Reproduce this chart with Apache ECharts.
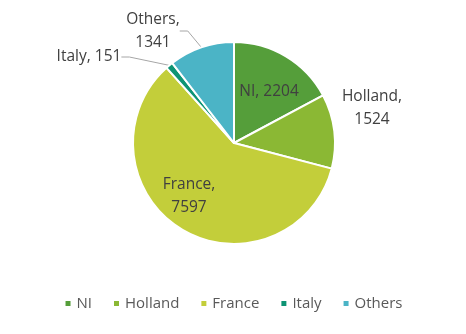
<!DOCTYPE html>
<html><head><meta charset="utf-8">
<script src="https://cdn.jsdelivr.net/npm/echarts@6/dist/echarts.min.js"></script>
<style>html,body{margin:0;padding:0;background:#fff}#c{width:466px;height:334px}</style>
</head><body><div id="c"></div>
<script>
const categories = ["NI", "Holland", "France", "Italy", "Others"];
const values = [2204, 1524, 7597, 151, 1341];
const colors = ["#559E3A", "#8BB834", "#C3CE3A", "#0E9474", "#4BB4C6"];

const chart = echarts.init(document.getElementById('c'), null, {renderer: 'canvas'});
const font = 'Open Sans';
const labelPos = {
  0: {x: 269, y: 92},
  1: {x: 372, y: 108},
  2: {x: 189, y: 196},
  3: {x: 89, y: 57},
  4: {x: 153, y: 31}
};
const data = categories.map((n, i) => {
  const inside = (i === 0 || i === 2);
  return {
    name: n, value: values[i],
    itemStyle: {color: colors[i]},
    label: {position: inside ? 'inside' : 'outside'},
    labelLine: {show: i === 3 || i === 4}
  };
});
chart.setOption({
  animation: false,
  legend: {
    top: 291, left: 'center',
    icon: 'rect', itemWidth: 7, itemHeight: 7, itemGap: 20,
    textStyle: {fontFamily: font, fontSize: 15, color: '#595959'},
    data: categories
  },
  series: [{
    type: 'pie',
    center: [234, 143], radius: 101,
    startAngle: 90, clockwise: true,
    itemStyle: {borderColor: '#fff', borderWidth: 2},
    label: {
      fontFamily: font, fontSize: 15.5, color: '#404040', lineHeight: 23,
      formatter: p => (p.dataIndex === 3 || p.dataIndex === 0) ? p.name + ', ' + p.value : p.name + ',\n' + p.value
    },
    labelLine: {lineStyle: {color: '#A6A6A6', width: 1}, length: 8, length2: 8},
    labelLayout: function (params) {
      const p = labelPos[params.dataIndex];
      return {x: p.x, y: p.y, align: 'center', verticalAlign: 'middle', moveOverlap: false};
    },
    data: data
  }]
});
</script></body></html>
